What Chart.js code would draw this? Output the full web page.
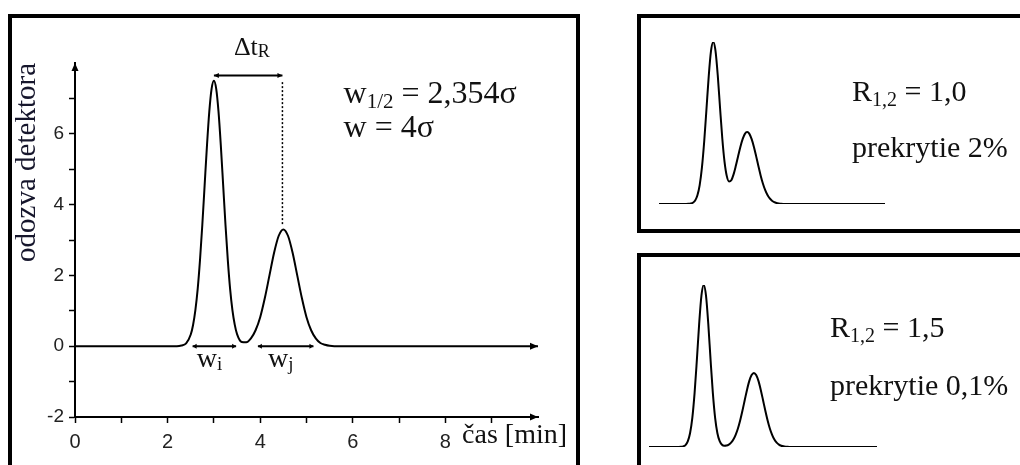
<!DOCTYPE html>
<html lang="sk">
<head>
<meta charset="utf-8">
<title>Rozlíšenie chromatografických píkov</title>
<script src="https://cdn.jsdelivr.net/npm/chart.js@4.4.1/dist/chart.umd.min.js"></script>
<style>
  html, body { margin: 0; padding: 0; background: #fff; }
  body { position: relative; width: 1020px; height: 465px; overflow: hidden; }
  .ramik { position: absolute; box-sizing: border-box; border: 4px solid #000; }
  canvas { position: absolute; }
</style>
</head>
<body>
<div class="ramik" style="left:8px;top:14px;width:572px;height:480px"></div>
<div class="ramik" style="left:637px;top:14px;width:420px;height:219px"></div>
<div class="ramik" style="left:637px;top:253px;width:420px;height:240px"></div>
<canvas id="graf-hlavny" width="564" height="447" style="left:12px;top:18px"></canvas>
<canvas id="graf-r10" width="379" height="211" style="left:641px;top:18px"></canvas>
<canvas id="graf-r15" width="379" height="208" style="left:641px;top:257px"></canvas>
<script>
const serif = '"Liberation Serif", "Times New Roman", serif';
const sans = '"Liberation Sans", Arial, sans-serif';
const farbaTextu = '#111';

// hlavny chromatogram - cas [min] a odozva detektora
const casMin = [0, 2.0, 2.1, 2.2, 2.3, 2.4, 2.5, 2.55, 2.6, 2.65, 2.7, 2.75, 2.8, 2.85, 2.9, 2.95,
  3.0, 3.05, 3.1, 3.15, 3.2, 3.25, 3.3, 3.35, 3.4, 3.45, 3.5, 3.6, 3.7, 3.8, 3.9, 4.0, 4.1, 4.2,
  4.3, 4.4, 4.5, 4.6, 4.7, 4.8, 4.9, 5.0, 5.1, 5.2, 5.3, 5.4, 5.5, 5.6, 10];
const odozva = [0, 0, 0, 0, 0.02, 0.08, 0.33, 0.60, 1.02, 1.62, 2.44, 3.43, 4.55, 5.66, 6.62, 7.27,
  7.5, 7.27, 6.62, 5.66, 4.55, 3.43, 2.44, 1.62, 1.02, 0.61, 0.34, 0.12, 0.11, 0.22, 0.45, 0.82, 1.36, 2.00,
  2.64, 3.12, 3.30, 3.12, 2.64, 2.00, 1.36, 0.82, 0.45, 0.22, 0.09, 0.04, 0.01, 0, 0];

const osXHodnoty = [0, 1, 2, 3, 4, 5, 6, 7, 8, 9];
const osXPopisy = ['0', '', '2', '', '4', '', '6', '', '8', ''];
const osYHodnoty = [-2, -1, 0, 1, 2, 3, 4, 5, 6, 7];
const osYPopisy = ['-2', '', '0', '', '2', '', '4', '', '6', ''];

// sirky pikov na zakladnej linii a rozdiel retencnych casov
const sirkaWi = [2.54, 3.48];
const sirkaWj = [3.95, 5.15];
const deltaTR = [3.0, 4.48];
const urovenDeltaTR = 7.65;
const bodkovana = [7.46, 3.44];

// R = 1,0 (prekrytie 2%)
const r10Cas = [0, 1.2, 1.3, 1.4, 1.5, 1.6, 1.7, 1.8, 1.9, 2.0, 2.1, 2.2, 2.3, 2.4, 2.5, 2.6, 2.7,
  2.8, 2.9, 3.0, 3.1, 3.2, 3.3, 3.4, 3.5, 3.6, 3.7, 3.8, 3.9, 4.0, 4.1, 4.2, 4.3, 4.4, 4.5, 4.6,
  4.7, 4.8, 4.9, 5.0, 5.1, 5.2, 5.3, 5.4, 5.5, 10];
const r10Odozva = [0, 0, 0.001, 0.003, 0.008, 0.022, 0.054, 0.117, 0.226, 0.386, 0.585, 0.788, 0.943,
  1.0, 0.945, 0.794, 0.596, 0.406, 0.260, 0.172, 0.139, 0.147, 0.183, 0.236, 0.295, 0.352, 0.400,
  0.433, 0.444, 0.433, 0.400, 0.352, 0.294, 0.233, 0.175, 0.125, 0.085, 0.055, 0.034, 0.020, 0.011,
  0.006, 0.003, 0.001, 0, 0];

// R = 1,5 (prekrytie 0,1%)
const r15Cas = [0, 1.3, 1.4, 1.5, 1.6, 1.7, 1.8, 1.9, 2.0, 2.1, 2.2, 2.3, 2.4, 2.5, 2.6, 2.7, 2.8,
  2.9, 3.0, 3.1, 3.2, 3.3, 3.4, 3.5, 3.6, 3.7, 3.8, 3.9, 4.0, 4.1, 4.2, 4.3, 4.4, 4.5, 4.6, 4.7,
  4.8, 4.9, 5.0, 5.1, 5.2, 5.3, 5.4, 5.5, 5.6, 5.7, 5.8, 5.9, 6.0, 6.1, 6.2, 10];
const r15Odozva = [0, 0, 0.001, 0.004, 0.012, 0.035, 0.085, 0.180, 0.334, 0.539, 0.760, 0.934, 1.0,
  0.934, 0.760, 0.539, 0.334, 0.180, 0.085, 0.036, 0.014, 0.008, 0.009, 0.015, 0.027, 0.046, 0.075,
  0.114, 0.165, 0.225, 0.290, 0.354, 0.408, 0.444, 0.457, 0.444, 0.408, 0.354, 0.290, 0.225, 0.165,
  0.114, 0.075, 0.046, 0.027, 0.015, 0.008, 0.004, 0.002, 0.001, 0, 0];

const body = (xs, ys) => xs.map((x, i) => ({x: x, y: ys[i]}));
const usecka = (xs, y) => xs.map(x => ({x: x, y: y}));

// text s dolnymi indexmi, poloha v jednotkach osi
const popiskyPlugin = {
  id: 'popisky',
  afterDraw(chart, args, opts) {
    const {ctx, scales} = chart;
    ctx.save();
    ctx.fillStyle = farbaTextu;
    ctx.textBaseline = 'alphabetic';
    ctx.textAlign = 'left';
    (opts.polozky || []).forEach(p => {
      let px = scales.x.getPixelForValue(p.x);
      const py = scales.y.getPixelForValue(p.y);
      if (p.stred) {
        let w = 0;
        p.casti.forEach(c => { ctx.font = c.s + 'px ' + serif; w += ctx.measureText(c.t).width; });
        px -= w / 2;
      }
      p.casti.forEach(c => {
        ctx.font = c.s + 'px ' + serif;
        ctx.fillText(c.t, px, py + (c.dy || 0));
        px += ctx.measureText(c.t).width;
      });
    });
    ctx.restore();
  }
};

// sipky na koncoch osi a useciek
const sipkyPlugin = {
  id: 'sipky',
  afterDraw(chart, args, opts) {
    const {ctx, scales} = chart;
    ctx.save();
    ctx.fillStyle = '#000';
    (opts.polozky || []).forEach(s => {
      const px = scales.x.getPixelForValue(s.x);
      const py = scales.y.getPixelForValue(s.y);
      const d = s.dlzka, h = s.polovica;
      ctx.beginPath();
      ctx.moveTo(px, py);
      if (s.smer === 'vpravo') { ctx.lineTo(px - d, py - h); ctx.lineTo(px - d, py + h); }
      if (s.smer === 'vlavo') { ctx.lineTo(px + d, py - h); ctx.lineTo(px + d, py + h); }
      if (s.smer === 'hore') { ctx.lineTo(px - h, py + d); ctx.lineTo(px + h, py + d); }
      ctx.closePath();
      ctx.fill();
    });
    ctx.restore();
  }
};

const ciara = (data, extra) => Object.assign({
  data: data,
  borderColor: '#000',
  borderWidth: 2,
  pointRadius: 0,
  fill: false
}, extra || {});

new Chart(document.getElementById('graf-hlavny'), {
  type: 'line',
  data: {
    datasets: [
      ciara(body(casMin, odozva), {cubicInterpolationMode: 'monotone'}),
      ciara(usecka(sirkaWi, 0)),
      ciara(usecka(sirkaWj, 0)),
      ciara(usecka(deltaTR, urovenDeltaTR)),
      ciara([{x: deltaTR[1], y: bodkovana[0]}, {x: deltaTR[1], y: bodkovana[1]}],
        {borderWidth: 1.5, borderDash: [2, 2]})
    ]
  },
  options: {
    responsive: false,
    animation: false,
    events: [],
    layout: {padding: {top: 45, right: 38, left: 0, bottom: 0}},
    plugins: {
      legend: {display: false},
      tooltip: {enabled: false},
      popisky: {
        polozky: [
          {x: 3.82, y: 8.22, stred: true, casti: [{t: 'Δt', s: 26}, {t: 'R', s: 18, dy: 2}]},
          {x: 5.8, y: 6.86, casti: [{t: 'w', s: 32}, {t: '1/2', s: 21, dy: 5}, {t: ' = 2,354σ', s: 32}]},
          {x: 5.8, y: 5.9, casti: [{t: 'w = 4σ', s: 32}]},
          {x: 2.63, y: -0.59, casti: [{t: 'w', s: 28}, {t: 'i', s: 19, dy: 3}]},
          {x: 4.17, y: -0.59, casti: [{t: 'w', s: 28}, {t: 'j', s: 19, dy: 3}]},
          {x: 8.36, y: -2.74, casti: [{t: 'čas [min]', s: 28}]}
        ]
      },
      sipky: {
        polozky: [
          {x: 10, y: -2, smer: 'vpravo', dlzka: 8, polovica: 3.5},
          {x: 10, y: 0, smer: 'vpravo', dlzka: 8, polovica: 3.5},
          {x: 0, y: 8, smer: 'hore', dlzka: 8, polovica: 3.5},
          {x: deltaTR[0], y: urovenDeltaTR, smer: 'vlavo', dlzka: 5, polovica: 2.5},
          {x: deltaTR[1], y: urovenDeltaTR, smer: 'vpravo', dlzka: 5, polovica: 2.5},
          {x: sirkaWi[0], y: 0, smer: 'vlavo', dlzka: 4, polovica: 2.5},
          {x: sirkaWi[1], y: 0, smer: 'vpravo', dlzka: 4, polovica: 2.5},
          {x: sirkaWj[0], y: 0, smer: 'vlavo', dlzka: 4, polovica: 2.5},
          {x: sirkaWj[1], y: 0, smer: 'vpravo', dlzka: 4, polovica: 2.5}
        ]
      }
    },
    scales: {
      x: {
        type: 'linear',
        min: 0,
        max: 10,
        afterFit: s => { s.height = 48; },
        afterBuildTicks: s => { s.ticks = osXHodnoty.map(v => ({value: v})); },
        grid: {drawOnChartArea: false, tickLength: 6, tickColor: '#000', tickWidth: 1.5},
        border: {color: '#000', width: 2},
        ticks: {
          autoSkip: false,
          maxRotation: 0,
          padding: 7,
          color: '#222',
          font: {family: sans, size: 20},
          callback: (v, i) => osXPopisy[i]
        }
      },
      y: {
        type: 'linear',
        min: -2,
        max: 8,
        afterFit: s => { s.width = 63; },
        afterBuildTicks: s => { s.ticks = osYHodnoty.map(v => ({value: v})); },
        grid: {drawOnChartArea: false, tickLength: 6, tickColor: '#000', tickWidth: 1.5},
        border: {color: '#000', width: 2},
        ticks: {
          autoSkip: false,
          padding: 5,
          color: '#222',
          font: {family: sans, size: 19},
          callback: (v, i) => osYPopisy[i]
        },
        title: {
          display: true,
          text: 'odozva detektora',
          align: 'end',
          color: '#16162c',
          font: {family: serif, size: 29, lineHeight: 1},
          padding: {top: 1, bottom: 0}
        }
      }
    }
  },
  plugins: [popiskyPlugin, sipkyPlugin]
});

// male grafy bez osi
const malyGraf = (id, cas, hodnoty, padding, polozky) => new Chart(document.getElementById(id), {
  type: 'line',
  data: {datasets: [ciara(body(cas, hodnoty), {cubicInterpolationMode: 'monotone'})]},
  options: {
    responsive: false,
    animation: false,
    events: [],
    layout: {padding: padding},
    plugins: {legend: {display: false}, tooltip: {enabled: false}, popisky: {polozky: polozky}},
    scales: {
      x: {type: 'linear', min: 0, max: 10, display: false},
      y: {type: 'linear', min: 0, max: 1, display: false}
    }
  },
  plugins: [popiskyPlugin]
});

malyGraf('graf-r10', r10Cas, r10Odozva, {left: 18, right: 135, top: 24, bottom: 25}, [
  {x: 8.54, y: 0.636, casti: [{t: 'R', s: 30}, {t: '1,2', s: 20, dy: 5}, {t: ' = 1,0', s: 30}]},
  {x: 8.54, y: 0.29, casti: [{t: 'prekrytie 2%', s: 30}]}
]);

malyGraf('graf-r15', r15Cas, r15Odozva, {left: 8, right: 143, top: 28, bottom: 18}, [
  {x: 7.94, y: 0.679, casti: [{t: 'R', s: 30}, {t: '1,2', s: 20, dy: 5}, {t: ' = 1,5', s: 30}]},
  {x: 7.94, y: 0.321, casti: [{t: 'prekrytie 0,1%', s: 30}]}
]);
</script>
</body>
</html>
